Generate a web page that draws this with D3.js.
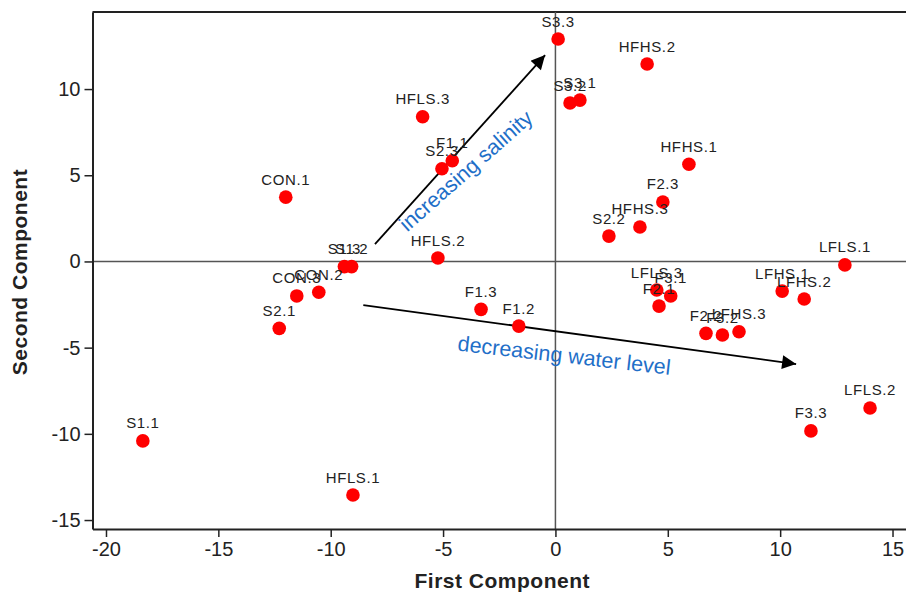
<!DOCTYPE html>
<html>
<head>
<meta charset="utf-8">
<script src="https://cdn.jsdelivr.net/npm/d3@7"></script>
<style>
  html, body { margin: 0; padding: 0; background: #fff; }
  svg { display: block; }
  text { font-family: "Liberation Sans", Arial, sans-serif; }
</style>
</head>
<body>
<svg id="chart" width="906" height="594"></svg>
<script>
// Sample scores on the first two principal components
const labels = [
  "CON.1","CON.2","CON.3",
  "S1.1","S1.2","S1.3",
  "S2.1","S2.2","S2.3",
  "S3.1","S3.2","S3.3",
  "F1.1","F1.2","F1.3",
  "F2.1","F2.2","F2.3",
  "F3.1","F3.2","F3.3",
  "HFLS.1","HFLS.2","HFLS.3",
  "HFHS.1","HFHS.2","HFHS.3",
  "LFLS.1","LFLS.2","LFLS.3",
  "LFHS.1","LFHS.2","LFHS.3"
];
const pc1 = [
  -12.0, -10.53, -11.51,
  -18.36, -9.07, -9.39,
  -12.29, 2.38, -5.05,
  1.09, 0.65, 0.12,
  -4.59, -1.63, -3.31,
  4.61, 6.70, 4.78,
  5.13, 7.43, 11.37,
  -9.01, -5.23, -5.91,
  5.94, 4.08, 3.76,
  12.88, 14.0, 4.51,
  10.09, 11.07, 8.17
];
const pc2 = [
  3.73, -1.79, -2.0,
  -10.41, -0.30, -0.30,
  -3.88, 1.47, 5.38,
  9.36, 9.19, 12.9,
  5.84, -3.75, -2.78,
  -2.59, -4.17, 3.45,
  -2.0, -4.27, -9.83,
  -13.55, 0.2, 8.39,
  5.64, 11.45, 2.0,
  -0.2, -8.5, -1.66,
  -1.72, -2.18, -4.08
];
const xTicks = [-20, -15, -10, -5, 0, 5, 10, 15];
const yTicks = [-15, -10, -5, 0, 5, 10];

// Trend arrows (start and end in component units)
const arrowNames = ["increasing salinity", "decreasing water level"];
const arrowX1 = [-8.03, -8.55];
const arrowY1 = [1.0, -2.53];
const arrowX2 = [-0.46, 10.71];
const arrowY2 = [11.97, -5.95];

const points = labels.map((l, i) => ({ label: l, x: pc1[i], y: pc2[i] }));

const svg = d3.select("#chart");
const plotLeft = 92.5, plotRight = 906, plotTop = 12, plotBottom = 529;

const x = d3.scaleLinear().domain([-20.6, 15.6]).range([plotLeft, plotRight]);
const y = d3.scaleLinear().domain([-15.52, 14.47]).range([plotBottom, plotTop]);

// Top frame line
svg.append("line")
  .attr("x1", plotLeft).attr("x2", plotRight).attr("y1", plotTop).attr("y2", plotTop)
  .attr("stroke", "#222").attr("stroke-width", 2);

// Zero reference lines
svg.append("line")
  .attr("x1", x(0)).attr("x2", x(0)).attr("y1", plotTop).attr("y2", plotBottom)
  .attr("stroke", "#555").attr("stroke-width", 1.5);
svg.append("line")
  .attr("x1", plotLeft).attr("x2", plotRight).attr("y1", y(0)).attr("y2", y(0))
  .attr("stroke", "#555").attr("stroke-width", 1.5);

// Axes
const xAxis = svg.append("g")
  .attr("transform", `translate(0,${plotBottom})`)
  .call(d3.axisBottom(x).tickValues(xTicks).tickSizeInner(8).tickSizeOuter(0).tickPadding(5).tickFormat(d3.format("d")));
const yAxis = svg.append("g")
  .attr("transform", `translate(${plotLeft},0)`)
  .call(d3.axisLeft(y).tickValues(yTicks).tickSizeInner(8).tickSizeOuter(0).tickPadding(4).tickFormat(d3.format("d")));

[xAxis, yAxis].forEach(g => {
  g.select(".domain").attr("stroke", "#222").attr("stroke-width", 2);
  g.selectAll(".tick line").attr("stroke", "#222").attr("stroke-width", 1.5);
  g.selectAll(".tick text")
    .attr("fill", "#222")
    .style("font-size", "20px")
    .style("font-family", "'Liberation Sans', Arial, sans-serif")
    .text(d => d < 0 ? "-" + Math.abs(d) : d);
});
xAxis.selectAll(".tick text").attr("dy", "0.71em");

// Axis titles
svg.append("text")
  .attr("x", (plotLeft + plotRight) / 2 + 3).attr("y", 588)
  .attr("text-anchor", "middle")
  .style("font-size", "21px").style("font-weight", "bold").style("letter-spacing", "0.5px")
  .attr("fill", "#222")
  .text("First Component");
svg.append("text")
  .attr("transform", `translate(27,${272}) rotate(-90)`)
  .attr("text-anchor", "middle")
  .style("font-size", "21px").style("font-weight", "bold").style("letter-spacing", "0.5px")
  .attr("fill", "#222")
  .text("Second Component");

// Arrowhead marker
svg.append("defs").append("marker")
  .attr("id", "head")
  .attr("viewBox", "0 0 10 10")
  .attr("refX", 10).attr("refY", 5)
  .attr("markerWidth", 20).attr("markerHeight", 14)
  .attr("markerUnits", "userSpaceOnUse")
  .attr("orient", "auto")
  .append("path").attr("d", "M0,0 L10,5 L0,10 Z").attr("fill", "#000");

arrowNames.forEach((name, i) => {
  svg.append("line")
    .attr("x1", x(arrowX1[i])).attr("y1", y(arrowY1[i]))
    .attr("x2", x(arrowX2[i])).attr("y2", y(arrowY2[i]))
    .attr("stroke", "#000").attr("stroke-width", 1.8)
    .attr("marker-end", "url(#head)");
});

// Arrow captions
svg.append("text")
  .attr("transform", "translate(467,172) rotate(-41.5)")
  .attr("text-anchor", "middle")
  .attr("dominant-baseline", "middle")
  .style("font-size", "21.5px")
  .attr("fill", "#1f6fc8")
  .text(arrowNames[0]);
svg.append("text")
  .attr("transform", "translate(564,357) rotate(6.5)")
  .attr("text-anchor", "middle")
  .attr("dominant-baseline", "middle")
  .style("font-size", "21.5px")
  .attr("fill", "#1f6fc8")
  .text(arrowNames[1]);

// Points and their labels
const g = svg.append("g");
g.selectAll("circle").data(points).join("circle")
  .attr("cx", d => x(d.x)).attr("cy", d => y(d.y))
  .attr("r", 6.8).attr("fill", "#ff0000");
g.selectAll("text").data(points).join("text")
  .attr("x", d => x(d.x)).attr("y", d => y(d.y) - 12.5)
  .attr("text-anchor", "middle")
  .style("font-size", "15px").style("letter-spacing", "0.6px")
  .attr("fill", "#222")
  .text(d => d.label);
</script>
</body>
</html>
